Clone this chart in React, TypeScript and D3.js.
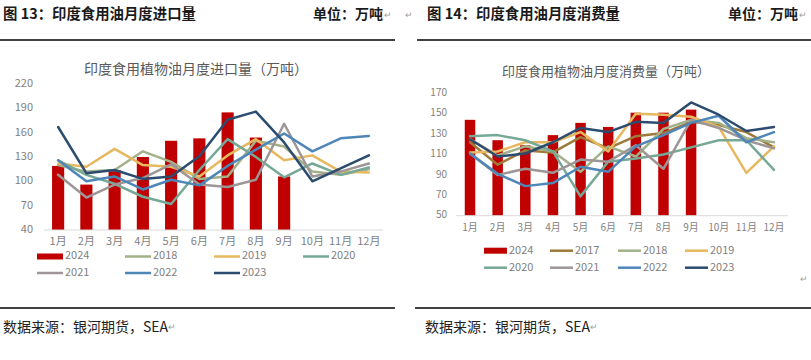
import React from "react";
import * as d3 from "d3";

const months = ["1月","2月","3月","4月","5月","6月","7月","8月","9月","10月","11月","12月"];

// Left chart: imports
const impTicks = [40, 70, 100, 130, 160, 190, 220];
const imp2024 = [119, 96, 114, 130, 150, 153, 185, 154, 106];
const imp2018 = [120, 112, 114, 137, 124, 103, 106, 150, 143, 112, 108, 115];
const imp2019 = [122, 118, 140, 120, 118, 106, 132, 152, 126, 132, 112, 111];
const imp2020 = [126, 108, 97, 81, 72, 114, 152, 130, 105, 122, 108, 117];
const imp2021 = [108, 80, 96, 104, 121, 96, 93, 102, 171, 106, 112, 122];
const imp2022 = [126, 100, 106, 90, 102, 95, 119, 139, 159, 137, 153, 156];
const imp2023 = [167, 110, 114, 103, 106, 131, 176, 186, 148, 100, 116, 132];

// Right chart: consumption
const conTicks = [50, 70, 90, 110, 130, 150, 170];
const con2024 = [144, 124, 119, 129, 141, 137, 151, 151, 154];
const con2017 = [122, 100, 114, 112, 127, 116, 128, 131, 142, 139, 132, 117];
const con2018 = [125, 109, 118, 113, 93, 118, 108, 135, 144, 141, 126, 122];
const con2019 = [112, 113, 122, 122, 132, 113, 150, 149, 147, 137, 92, 118];
const con2020 = [128, 129, 124, 113, 69, 103, 106, 110, 117, 124, 124, 95];
const con2021 = [111, 90, 96, 92, 105, 103, 119, 96, 144, 136, 124, 116];
const con2022 = [111, 91, 79, 82, 98, 93, 118, 129, 141, 148, 122, 132];
const con2023 = [125, 108, 111, 122, 136, 132, 142, 141, 161, 149, 133, 137];

const C = {
  y2024: "#C00000",
  y2017: "#9E7A3A",
  y2018: "#A3B18A",
  y2019: "#E6B85F",
  y2020: "#76A896",
  y2021: "#9E9696",
  y2022: "#4F86B8",
  y2023: "#2B4C6F",
};

const FONT = "'Noto Sans CJK SC', 'Noto Sans', sans-serif";
const TICK = "#7F7F7F";

type Series = { name: string; values: number[]; color: string };

function Chart(props: {
  x0: number; x1: number; yBottom: number; yTop: number; domain: [number, number];
  ticks: number[]; bars: number[]; lines: Series[]; barPad: number;
  title: string; titleX: number; titleY: number; titleSize: number;
  tickSize: number; tickRight: number; monthY: number; monthSize: number;
  legend: { name: string; color: string; x: number; y: number; bar?: boolean }[];
  legendSize: number; swW: number;
}) {
  const x = d3.scaleBand<string>().domain(months).range([props.x0, props.x1])
    .paddingInner(props.barPad).paddingOuter(props.barPad / 2);
  const y = d3.scaleLinear().domain(props.domain).range([props.yBottom, props.yTop]);
  const cx = (i: number) => (x(months[i]) as number) + x.bandwidth() / 2;
  const line = d3.line<number>().x((_, i) => cx(i)).y((d) => y(d));
  return (
    <g fontFamily={FONT}>
      <text x={props.titleX} y={props.titleY} textAnchor="middle" dominantBaseline="middle"
        fontSize={props.titleSize} fill="#595959">{props.title}</text>
      {props.ticks.map((t) => (
        <text key={t} x={props.tickRight} y={y(t)} textAnchor="end" dominantBaseline="middle"
          fontSize={props.tickSize} fill={TICK}>{t}</text>
      ))}
      {props.bars.map((v, i) => (
        <rect key={i} x={x(months[i])} y={y(v)} width={x.bandwidth()} height={y(props.domain[0]) - y(v)}
          fill={C.y2024} />
      ))}
      <line x1={props.x0} x2={props.x1} y1={props.yBottom} y2={props.yBottom} stroke="#D9D9D9" strokeWidth={1} />
      {props.lines.map((s) => (
        <path key={s.name} d={line(s.values) || ""} fill="none" stroke={s.color} strokeWidth={2.5}
          strokeLinejoin="round" strokeLinecap="round" />
      ))}
      {months.map((m, i) => (
        <text key={m} x={cx(i)} y={props.monthY} textAnchor="middle" dominantBaseline="middle"
          fontSize={props.monthSize} fill={TICK}>{m}</text>
      ))}
      {props.legend.map((l) => (
        <g key={l.name}>
          {l.bar ? (
            <rect x={l.x} y={l.y - 3} width={props.swW} height={6} fill={l.color} />
          ) : (
            <line x1={l.x} x2={l.x + props.swW} y1={l.y} y2={l.y} stroke={l.color} strokeWidth={2.5} />
          )}
          <text x={l.x + props.swW + 2} y={l.y} dominantBaseline="middle" fontSize={props.legendSize} fill={TICK}>{l.name}</text>
        </g>
      ))}
    </g>
  );
}

export default function App() {
  const leftLines: Series[] = [
    { name: "2018", values: imp2018, color: C.y2018 },
    { name: "2019", values: imp2019, color: C.y2019 },
    { name: "2020", values: imp2020, color: C.y2020 },
    { name: "2021", values: imp2021, color: C.y2021 },
    { name: "2022", values: imp2022, color: C.y2022 },
    { name: "2023", values: imp2023, color: C.y2023 },
  ];
  const rightLines: Series[] = [
    { name: "2017", values: con2017, color: C.y2017 },
    { name: "2018", values: con2018, color: C.y2018 },
    { name: "2019", values: con2019, color: C.y2019 },
    { name: "2020", values: con2020, color: C.y2020 },
    { name: "2021", values: con2021, color: C.y2021 },
    { name: "2022", values: con2022, color: C.y2022 },
    { name: "2023", values: con2023, color: C.y2023 },
  ];
  const hdr = { fontFamily: FONT, fontWeight: 700, fontSize: 14, fill: "#1a1a1a" } as any;
  const mark = { fontFamily: FONT, fontSize: 9, fill: "#A0A0A0" } as any;
  const src = { fontFamily: FONT, fontSize: 14, fill: "#222" } as any;
  return (
    <svg width={811} height={360} style={{ position: "absolute", left: 0, top: 0, background: "#fff" }}>
      {/* Left panel header */}
      <text x={3} y={15} dominantBaseline="middle" {...hdr} fontSize={14.4}>图 13：印度食用油月度进口量</text>
      <text x={313} y={15} dominantBaseline="middle" {...hdr}>单位：万吨</text>
      <text x={384} y={16} dominantBaseline="middle" {...mark}>↵</text>
      <line x1={0} x2={395} y1={40} y2={40} stroke="#000" strokeWidth={1.5} />
      <line x1={0} x2={395} y1={308} y2={308} stroke="#000" strokeWidth={1.5} />
      <text x={3} y={328} dominantBaseline="middle" {...src}>数据来源：银河期货，SEA<tspan {...mark}>↵</tspan></text>

      {/* Right panel header */}
      <text x={405} y={16} dominantBaseline="middle" {...mark}>↵</text>
      <text x={427} y={15} dominantBaseline="middle" {...hdr} fontSize={14.4}>图 14：印度食用油月度消费量</text>
      <text x={728} y={15} dominantBaseline="middle" {...hdr}>单位：万吨</text>
      <text x={799} y={16} dominantBaseline="middle" {...mark}>↵</text>
      <line x1={417} x2={811} y1={40} y2={40} stroke="#000" strokeWidth={1.5} />
      <line x1={415} x2={811} y1={308} y2={308} stroke="#000" strokeWidth={1.5} />
      <text x={425} y={328} dominantBaseline="middle" {...src}>数据来源：银河期货，SEA<tspan {...mark}>↵</tspan></text>
      <text x={800} y={280} dominantBaseline="middle" {...mark}>↵</text>

      <Chart x0={44} x1={383} yBottom={230} yTop={84} domain={[40, 220]} ticks={impTicks}
        bars={imp2024} lines={leftLines} barPad={0.57}
        title="印度食用植物油月度进口量（万吨）" titleX={196} titleY={70} titleSize={14}
        tickSize={11} tickRight={33} monthY={242} monthSize={11}
        legend={[
          { name: "2024", color: C.y2024, x: 37, y: 256.5, bar: true },
          { name: "2018", color: C.y2018, x: 125, y: 256.5 },
          { name: "2019", color: C.y2019, x: 214, y: 256.5 },
          { name: "2020", color: C.y2020, x: 303, y: 256.5 },
          { name: "2021", color: C.y2021, x: 37, y: 273 },
          { name: "2022", color: C.y2022, x: 125, y: 273 },
          { name: "2023", color: C.y2023, x: 214, y: 273 },
        ]}
        legendSize={11} swW={26} />

      <Chart x0={456.2} x1={787.8} yBottom={215.7} yTop={93.3} domain={[50, 170]} ticks={conTicks}
        bars={con2024} lines={rightLines} barPad={0.62}
        title="印度食用植物油月度消费量（万吨）" titleX={606} titleY={72} titleSize={13}
        tickSize={10} tickRight={447} monthY={228} monthSize={10}
        legend={[
          { name: "2024", color: C.y2024, x: 484, y: 250.7, bar: true },
          { name: "2017", color: C.y2017, x: 550, y: 250.7 },
          { name: "2018", color: C.y2018, x: 618, y: 250.7 },
          { name: "2019", color: C.y2019, x: 685, y: 250.7 },
          { name: "2020", color: C.y2020, x: 484, y: 267.7 },
          { name: "2021", color: C.y2021, x: 550, y: 267.7 },
          { name: "2022", color: C.y2022, x: 618, y: 267.7 },
          { name: "2023", color: C.y2023, x: 685, y: 267.7 },
        ]}
        legendSize={11} swW={23} />
    </svg>
  );
}
